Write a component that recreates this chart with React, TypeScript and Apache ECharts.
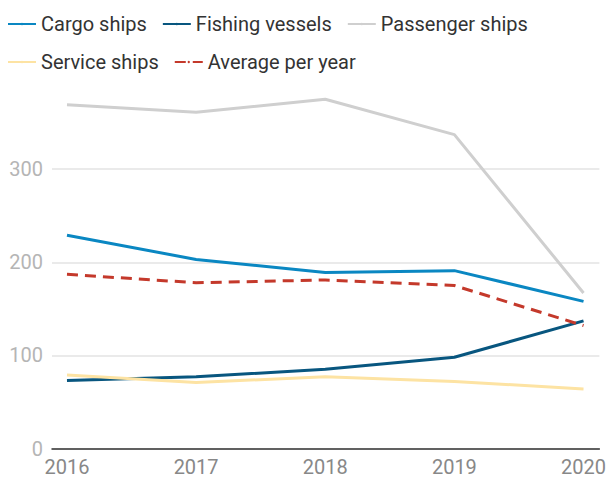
import React, { useEffect, useRef } from "react";
import * as echarts from "echarts";

const years = [2016, 2017, 2018, 2019, 2020];
const cargo = [229, 203, 189, 191, 158];
const fishing = [73, 77, 85, 98, 137];
const passenger = [369, 361, 375, 337, 167];
const service = [79, 71, 77, 72, 64];
const average = [187, 178, 181, 175, 132];
const yTicks = [0, 100, 200, 300];

const FONT = "Roboto, 'Noto Sans', sans-serif";

export default function App() {
  const ref = useRef<HTMLDivElement>(null);
  useEffect(() => {
    if (!ref.current) return;
    const chart = echarts.init(ref.current, undefined, { renderer: "svg" });
    const mk = (name: string, data: number[], color: string, type: any = "solid") => ({
      name,
      type: "line",
      data: years.map((y, i) => [y, data[i]]),
      symbol: "none",
      lineStyle: { color, width: 3, type },
      itemStyle: { color },
      z: 3,
    });
    const legendText = { fontFamily: FONT, fontSize: 20, color: "#333" };
    chart.setOption({
      animation: false,
      backgroundColor: "#fff",
      legend: [
        {
          left: 7,
          top: 14,
          padding: 0,
          itemWidth: 28,
          itemHeight: 3,
          itemGap: 15,
          textStyle: legendText,
          data: ["Cargo ships", "Fishing vessels", "Passenger ships"],
        },
        {
          left: 7,
          top: 52,
          padding: 0,
          itemWidth: 28,
          itemHeight: 3,
          itemGap: 15,
          textStyle: legendText,
          data: ["Service ships", "Average per year"],
        },
      ],
      grid: { left: 52, right: 7, top: 76, bottom: 31.5 },
      xAxis: {
        type: "value",
        min: 2015.884,
        max: 2020.123,
        axisLine: { show: true, onZero: false, lineStyle: { color: "#333", width: 1.5 } },
        axisTick: { show: false },
        splitLine: { show: false },
        axisLabel: {
          customValues: years,
          formatter: (v: number) => String(Math.round(v)),
          fontFamily: FONT,
          fontSize: 20,
          color: "#888",
          margin: 8,
          showMinLabel: true,
          showMaxLabel: true,
        },
      },
      yAxis: {
        type: "value",
        min: 0,
        max: 400,
        interval: 100,
        axisLine: { show: false },
        axisTick: { show: false },
        axisLabel: {
          formatter: (v: number) => (yTicks.includes(v) ? String(v) : ""),
          fontFamily: FONT,
          fontSize: 20,
          color: "#b5b5b5",
          margin: 9,
        },
        splitLine: {
          show: true,
          lineStyle: {
            color: ["#e3e3e3", "#e3e3e3", "#e3e3e3", "#e3e3e3", "rgba(0,0,0,0)"],
            width: 1.5,
          },
        },
      },
      series: [
        mk("Cargo ships", cargo, "#0a87c2"),
        mk("Fishing vessels", fishing, "#08567f"),
        mk("Passenger ships", passenger, "#cfcfcf"),
        mk("Service ships", service, "#fde3a3"),
        mk("Average per year", average, "#c4392b", [11, 7]),
      ],
    });
    return () => chart.dispose();
  }, []);
  return (
    <div
      ref={ref}
      style={{ position: "fixed", left: 0, top: 0, width: 609, height: 480 }}
    />
  );
}
